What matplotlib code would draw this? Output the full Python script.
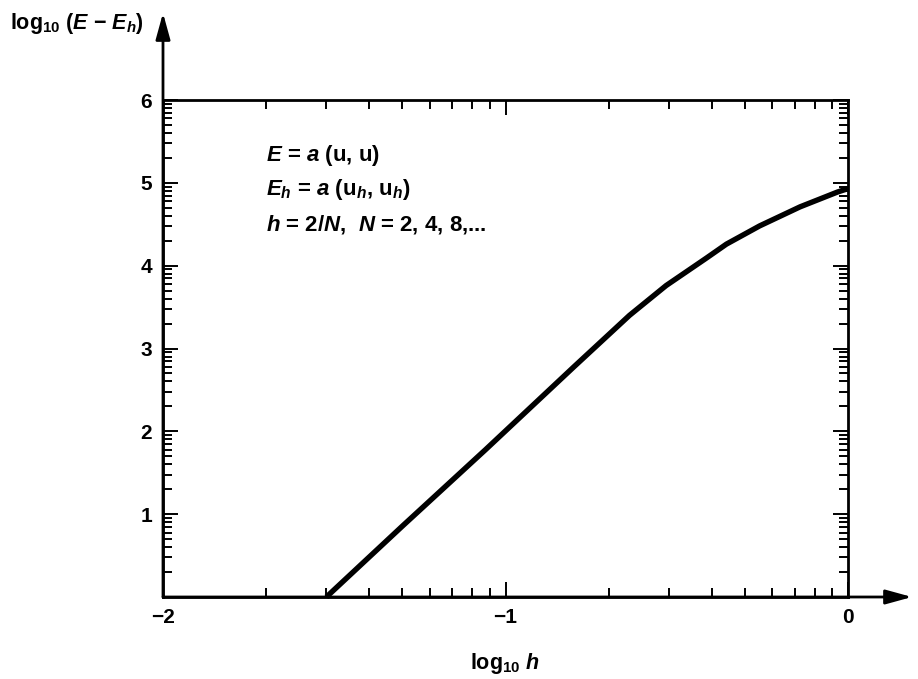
import numpy as np
import matplotlib
matplotlib.use("Agg")
import matplotlib.pyplot as plt

plt.rcParams['font.family'] = ['Liberation Sans', 'DejaVu Sans']
plt.rcParams['mathtext.fontset'] = 'custom'
plt.rcParams['mathtext.rm'] = 'Liberation Sans:bold'
plt.rcParams['mathtext.it'] = 'Liberation Sans:bold:italic'
plt.rcParams['mathtext.bf'] = 'Liberation Sans:bold'

# data
log_h = [-1.523, -1.30, -1.058, -0.80, -0.638, -0.531, -0.414, -0.355, -0.258, -0.14, -0.03, 0.0]
log_err = [0.0, 0.86, 1.78, 2.78, 3.40, 3.76, 4.09, 4.26, 4.48, 4.71, 4.89, 4.93]

x_major = [-2, -1, 0]
x_labels = ['\u22122', '\u22121', '0']
y_major = [1, 2, 3, 4, 5, 6]
y_labels = ['1', '2', '3', '4', '5', '6']

W, H = 918, 679
fig = plt.figure(figsize=(W / 100, H / 100), dpi=100)
L, R, B, T = 163, 848, 597, 100
ax = fig.add_axes([L / W, 1 - B / H, (R - L) / W, (B - T) / H])

ax.plot(log_h, log_err, color='black', lw=3.9, solid_capstyle='butt',
        solid_joinstyle='round', clip_on=False)

ax.set_xlim(-2, 0)
ax.set_ylim(0, 6)

ax.set_xticks(x_major)
ax.set_xticklabels(x_labels)
ax.set_yticks(y_major)
ax.set_yticklabels(y_labels)

# logarithmic minor ticks within each unit
xminor = [d + np.log10(k) for d in (-2, -1) for k in range(2, 10)]
yminor = [d + np.log10(k) for d in range(0, 6) for k in range(2, 10)]
ax.set_xticks(xminor, minor=True)
ax.set_yticks(yminor, minor=True)

ax.tick_params(which='both', direction='in', top=True, right=True, width=1.4, color='black')
ax.tick_params(which='major', length=10.5, labelsize=15, pad=8)
ax.tick_params(which='minor', length=6.5)
for lab in ax.get_xticklabels() + ax.get_yticklabels():
    lab.set_fontweight('bold')

for s in ax.spines.values():
    s.set_linewidth(2.0)
    s.set_color('black')

# axis arrows
ax.annotate('', xy=((912 - L) / (R - L), 0), xytext=(0, 0), xycoords='axes fraction',
            textcoords='axes fraction', annotation_clip=False,
            arrowprops=dict(arrowstyle='-|>,head_length=0.8,head_width=0.22', lw=2.0,
                            color='black', mutation_scale=20, shrinkA=0, shrinkB=0))
ax.annotate('', xy=(0, (B - 13) / (B - T)), xytext=(0, 0), xycoords='axes fraction',
            textcoords='axes fraction', annotation_clip=False,
            arrowprops=dict(arrowstyle='-|>,head_length=0.8,head_width=0.22', lw=2.0,
                            color='black', mutation_scale=20, shrinkA=0, shrinkB=0))

# axis labels
fig.text(10 / W, 1 - 24 / H, 'log$_{10}$ ($E$ \u2212 $E_h$)',
         ha='left', va='center', fontsize=15.5, fontweight='bold')
fig.text(505 / W, 1 - 663 / H, r'log$_{10}$ $h$', ha='center', va='center',
         fontsize=15.5, fontweight='bold')

# annotation text
tx = (266 - L) / (R - L)
ax.text(tx, (B - 155) / (B - T), r'$E$ = $a$ ($\mathbf{u}$, $\mathbf{u}$)',
        transform=ax.transAxes, ha='left', va='center', fontsize=16, fontweight='bold')
ax.text(tx, (B - 190) / (B - T), r'$E_h$ = $a$ ($\mathbf{u}_h$, $\mathbf{u}_h$)',
        transform=ax.transAxes, ha='left', va='center', fontsize=16, fontweight='bold')
ax.text(tx, (B - 225) / (B - T), r'$h$ = 2/$N$,  $N$ = 2, 4, 8,...',
        transform=ax.transAxes, ha='left', va='center', fontsize=16, fontweight='bold')

fig.savefig('out.png', dpi=100)
